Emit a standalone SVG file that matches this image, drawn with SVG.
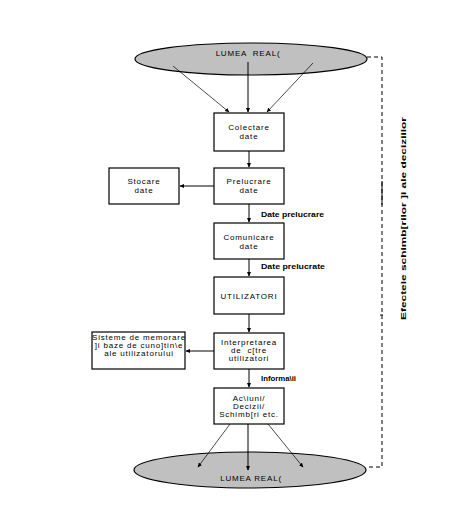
<svg xmlns="http://www.w3.org/2000/svg" width="462" height="528" viewBox="0 0 462 528">
<defs>
<style>
.box{fill:#fff;stroke:#000;stroke-width:1.2}
.ell{fill:#c0c0c0;stroke:#000;stroke-width:1.2}
.t{font-family:"Liberation Sans",Arial,sans-serif;font-size:8px;letter-spacing:0.8px;text-anchor:middle;fill:#000}
.b{font-family:"Liberation Sans",Arial,sans-serif;font-size:8px;font-weight:bold;fill:#000}
.ln{stroke:#000;stroke-width:1;fill:none}
.thin{stroke:#000;stroke-width:0.7;fill:none}
.dash{stroke:#000;stroke-width:1;fill:none;stroke-dasharray:4,3}
</style>
<marker id="ah" markerWidth="5" markerHeight="5" refX="4" refY="2.5" orient="auto" markerUnits="userSpaceOnUse">
<path d="M0,0.5 L4.5,2.5 L0,4.5 Z" fill="#000"/>
</marker>
</defs>
<rect width="462" height="528" fill="#fff"/>
<g id="lumea-top">
<ellipse class="ell" cx="251" cy="59" rx="116" ry="16"/>
<text class="t" x="248" y="56" xml:space="preserve">LUMEA  REAL(</text>
</g>
<g id="lumea-bottom">
<ellipse class="ell" cx="250" cy="470" rx="116" ry="18"/>
<text class="t" x="251" y="481">LUMEA REAL(</text>
</g>
<g id="connectors">
<line class="thin" x1="173" y1="66" x2="229" y2="112" marker-end="url(#ah)"/>
<line class="ln" x1="248" y1="62" x2="248" y2="112" marker-end="url(#ah)"/>
<line class="thin" x1="313" y1="63" x2="267" y2="112" marker-end="url(#ah)"/>
<line class="ln" x1="249" y1="151" x2="249" y2="167" marker-end="url(#ah)"/>
<line class="ln" x1="214" y1="186" x2="180" y2="186" marker-end="url(#ah)"/>
<line class="ln" x1="249" y1="204" x2="249" y2="222" marker-end="url(#ah)"/>
<line class="ln" x1="249" y1="259" x2="249" y2="276" marker-end="url(#ah)"/>
<line class="ln" x1="249" y1="314" x2="249" y2="332" marker-end="url(#ah)"/>
<line class="ln" x1="214" y1="351" x2="186" y2="351" marker-end="url(#ah)"/>
<line class="ln" x1="249" y1="369" x2="249" y2="387" marker-end="url(#ah)"/>
<line class="thin" x1="230" y1="424" x2="198" y2="467" marker-end="url(#ah)"/>
<line class="ln" x1="248" y1="424" x2="248" y2="470" marker-end="url(#ah)"/>
<line class="thin" x1="268" y1="424" x2="303" y2="467" marker-end="url(#ah)"/>
<path class="dash" d="M367,57 H382 V467 H366"/>
<line class="ln" x1="382" y1="181" x2="382" y2="205"/>
<line class="ln" x1="380" y1="315" x2="383" y2="315"/>
</g>
<g id="colectare">
<rect class="box" x="214" y="113" width="70" height="38"/>
<text class="t" x="249" y="130">Colectare</text>
<text class="t" x="249" y="139">date</text>
</g>
<g id="prelucrare">
<rect class="box" x="214" y="168" width="70" height="36"/>
<text class="t" x="249" y="184">Prelucrare</text>
<text class="t" x="249" y="193">date</text>
</g>
<g id="stocare">
<rect class="box" x="109" y="168" width="70" height="36"/>
<text class="t" x="144" y="184">Stocare</text>
<text class="t" x="144" y="193">date</text>
</g>
<g id="label-date-prelucrare">
<text class="b" x="261" y="217" textLength="63" lengthAdjust="spacingAndGlyphs">Date prelucrare</text>
</g>
<g id="comunicare">
<rect class="box" x="214" y="223" width="70" height="36"/>
<text class="t" x="249" y="240">Comunicare</text>
<text class="t" x="249" y="249">date</text>
</g>
<g id="label-date-prelucrate">
<text class="b" x="261" y="269" textLength="64" lengthAdjust="spacingAndGlyphs">Date prelucrate</text>
</g>
<g id="utilizatori">
<rect class="box" x="214" y="277" width="70" height="37"/>
<text class="t" x="249" y="299">UTILIZATORI</text>
</g>
<g id="interpretarea">
<rect class="box" x="214" y="333" width="70" height="36"/>
<text class="t" x="249" y="345">Interpretarea</text>
<text class="t" x="249" y="353" xml:space="preserve">de  c[tre</text>
<text class="t" x="249" y="361">utilizatori</text>
</g>
<g id="sisteme">
<rect class="box" x="92" y="332" width="93" height="37"/>
<text class="t" x="139" y="340">Sisteme de memorare</text>
<text class="t" x="139" y="348">]i baze de cuno]tin\e</text>
<text class="t" x="139" y="356">ale utilizatorului</text>
</g>
<g id="label-informatii">
<text class="b" x="261" y="381" textLength="35" lengthAdjust="spacingAndGlyphs">Informa\ii</text>
</g>
<g id="actiuni">
<rect class="box" x="214" y="388" width="70" height="36"/>
<text class="t" x="249" y="401">Ac\iuni/</text>
<text class="t" x="249" y="409">Decizii/</text>
<text class="t" x="249" y="417">Schimb[ri etc.</text>
</g>
<g id="efecte-label">
<text class="b" transform="translate(406,320) rotate(-90)" x="0" y="0" font-size="9" textLength="203" lengthAdjust="spacingAndGlyphs">Efectele schimb[rilor ]i ale deciziilor</text>
</g>
</svg>
